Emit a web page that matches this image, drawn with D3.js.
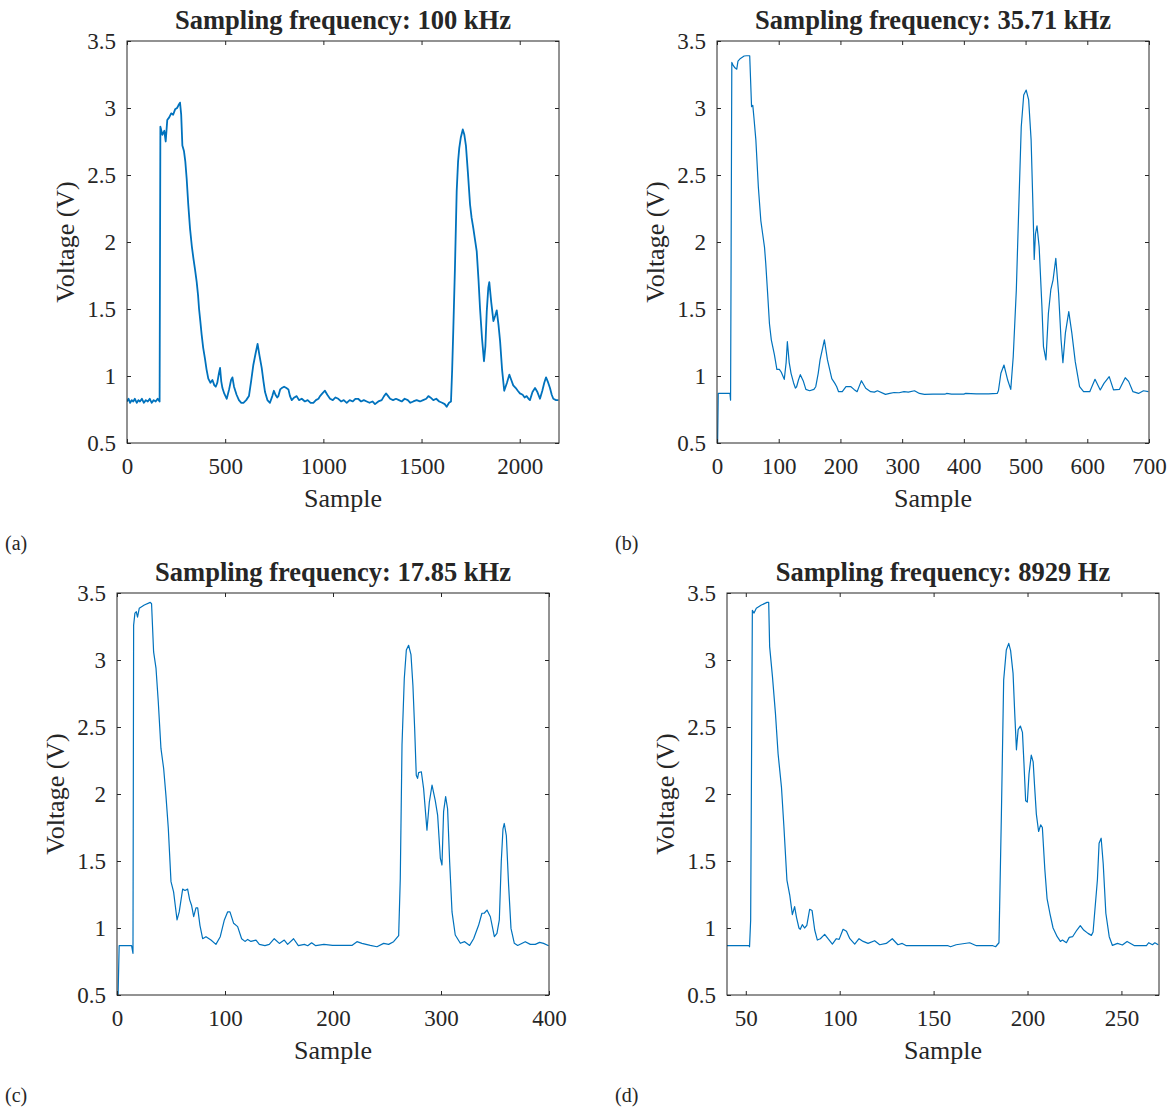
<!DOCTYPE html>
<html>
<head>
<meta charset="utf-8">
<script src="https://cdn.jsdelivr.net/npm/d3@7"></script>
<style>
  body { margin: 0; background: #fff; }
  svg text { font-family: "Liberation Serif", "Times New Roman", serif; fill: #262626; }
</style>
</head>
<body>
<script>
// Voltage traces, one pair of arrays per sampling rate.

const titles = ["Sampling frequency: 100 kHz", "Sampling frequency: 35.71 kHz",
                "Sampling frequency: 17.85 kHz", "Sampling frequency: 8929 Hz"];
const panelTags = ["(a)", "(b)", "(c)", "(d)"];

const yTicks = [0.5, 1, 1.5, 2, 2.5, 3, 3.5];
const xTicksA = [0, 500, 1000, 1500, 2000];
const xTicksB = [0, 100, 200, 300, 400, 500, 600, 700];
const xTicksC = [0, 100, 200, 300, 400];
const xTicksD = [50, 100, 150, 200, 250];

const sampleA = [0, 8, 16, 24, 32, 40, 50, 58, 66, 76, 86, 96, 106, 116, 126, 136, 146, 156, 166,
  170, 180, 190, 197, 205, 215, 225, 235, 245, 255, 262, 270, 276, 282, 290, 297, 304, 312, 321, 330,
  338, 346, 355, 362, 367, 374, 380, 388, 397, 405, 414, 425, 435, 445, 452, 460, 468, 474, 480, 486,
  495, 508, 520, 530, 537, 545, 558, 570, 582, 593, 607, 621, 632, 643, 655, 665, 675, 686, 695, 703,
  715, 728, 740, 748, 756, 765, 771, 780, 788, 800, 812, 822, 830, 839, 852, 864, 876, 890, 906, 920,
  935, 949, 962, 975, 983, 995, 1008, 1020, 1034, 1048, 1062, 1076, 1090, 1104, 1119, 1134, 1150,
  1163, 1177, 1192, 1206, 1221, 1235, 1250, 1263, 1280, 1297, 1309, 1319, 1330, 1340, 1355, 1370,
  1385, 1399, 1414, 1430, 1443, 1458, 1475, 1492, 1508, 1524, 1535, 1545, 1560, 1575, 1590, 1605,
  1618, 1628, 1640, 1650, 1656, 1662, 1670, 1679, 1686, 1692, 1700, 1710, 1718, 1726, 1736, 1747,
  1755, 1764, 1772, 1781, 1790, 1798, 1808, 1818, 1825, 1832, 1840, 1845, 1855, 1866, 1875, 1883,
  1892, 1900, 1910, 1921, 1935, 1947, 1957, 1967, 1980, 1990, 2001, 2015, 2025, 2035, 2045, 2052,
  2065, 2078, 2090, 2103, 2115, 2125, 2134, 2145, 2154, 2163, 2171, 2185, 2197];
const voltA = [0.81, 0.83, 0.80, 0.82, 0.81, 0.83, 0.80, 0.82, 0.81, 0.83, 0.80, 0.82, 0.81, 0.83, 0.80, 0.82, 0.81, 0.83, 0.81,
  2.86, 2.80, 2.83, 2.75, 2.91, 2.93, 2.96, 2.95, 2.99, 3.00, 3.02, 3.04, 2.95, 2.72, 2.68, 2.60, 2.47, 2.28, 2.10, 1.97,
  1.88, 1.80, 1.70, 1.60, 1.50, 1.40, 1.31, 1.21, 1.13, 1.05, 0.98, 0.95, 0.97, 0.93, 0.92, 0.95, 1.02, 1.06, 0.96, 0.91,
  0.87, 0.83, 0.90, 0.97, 0.99, 0.92, 0.86, 0.82, 0.80, 0.80, 0.82, 0.85, 0.96, 1.08, 1.17, 1.24, 1.15, 1.06, 0.96, 0.88,
  0.82, 0.80, 0.85, 0.89, 0.86, 0.84, 0.85, 0.90, 0.91, 0.92, 0.91, 0.90, 0.85, 0.82, 0.84, 0.85, 0.82, 0.83, 0.81, 0.82,
  0.80, 0.80, 0.82, 0.83, 0.85, 0.87, 0.89, 0.86, 0.83, 0.82, 0.84, 0.83, 0.81, 0.82, 0.80, 0.82, 0.81,
  0.83, 0.83, 0.81, 0.82, 0.81, 0.80, 0.81, 0.79, 0.81, 0.82, 0.85, 0.87, 0.85, 0.83, 0.82, 0.83,
  0.82, 0.81, 0.83, 0.82, 0.80, 0.81, 0.82, 0.81, 0.82, 0.83, 0.85, 0.84, 0.82, 0.83, 0.81, 0.80,
  0.79, 0.77, 0.80, 0.81, 1.05, 1.36, 1.80, 2.38, 2.60, 2.70, 2.78, 2.84, 2.80, 2.72, 2.52, 2.28,
  2.18, 2.10, 2.02, 1.93, 1.72, 1.50, 1.28, 1.11, 1.22, 1.48, 1.66, 1.70, 1.55, 1.41, 1.45, 1.49,
  1.38, 1.26, 1.05, 0.89, 0.95, 1.01, 0.97, 0.93, 0.91, 0.89, 0.87, 0.86, 0.84, 0.85, 0.83, 0.82,
  0.88, 0.91, 0.88, 0.83, 0.89, 0.95, 0.99, 0.95, 0.91, 0.86, 0.83, 0.82, 0.82];

const sampleB = [1, 2, 10, 21, 22, 24, 26, 29, 32, 34, 38, 44, 48, 53, 56, 58, 60, 63, 67, 71, 74, 77, 79,
  82, 85, 88, 93, 97, 101, 104, 109, 112, 114, 117, 120, 124, 127, 129, 132, 135, 140, 144, 150, 157,
  160, 164, 167, 174, 179, 186, 191, 194, 197, 203, 209, 217, 222, 227, 231, 234, 241, 249, 255, 260,
  273, 280, 287, 295, 303, 310, 320, 328, 336, 350, 370, 372, 380, 400, 403, 420, 440, 454, 456, 460,
  465, 471, 476, 480, 485, 489, 493, 497, 501, 505, 509, 512, 514, 516, 518.5, 522, 526.5, 529, 533,
  537, 541, 544.5, 549, 553.5, 557.5, 560.5, 564.5, 570, 575, 580.5, 587.5, 594, 604, 612.5, 621, 627,
  635.5, 642.5, 652, 661.5, 667, 674, 683, 691, 699];
const voltB = [0.50, 0.87, 0.87, 0.87, 0.82, 3.34, 3.32, 3.30, 3.29, 3.35, 3.37, 3.388, 3.39, 3.39, 3.01, 3.02, 2.92, 2.76, 2.41, 2.16, 2.06, 1.96, 1.84,
  1.62, 1.39, 1.27, 1.16, 1.05, 1.05, 1.03, 0.975, 1.10, 1.256, 1.10, 1.02, 0.95, 0.91, 0.92, 0.97, 1.01, 0.96, 0.90, 0.89, 0.90,
  0.92, 1.02, 1.12, 1.27, 1.12, 0.98, 0.945, 0.92, 0.883, 0.883, 0.92, 0.92, 0.90, 0.883, 0.93, 0.965, 0.908, 0.883, 0.88, 0.89,
  0.863, 0.87, 0.877, 0.875, 0.883, 0.88, 0.89, 0.87, 0.863, 0.865, 0.865, 0.87, 0.865, 0.865, 0.87, 0.866, 0.867, 0.87, 0.89, 1.02,
  1.082, 0.97, 0.90, 1.144, 1.64, 2.26, 2.86, 3.097, 3.134, 3.06, 2.76, 2.26, 1.87, 2.06, 2.12, 1.965, 1.517, 1.22, 1.12,
  1.468, 1.647, 1.716, 1.878, 1.617, 1.27, 1.10, 1.32, 1.48, 1.32, 1.107, 0.92, 0.883, 0.883, 0.975, 0.896, 0.945,
  0.995, 0.896, 0.90, 0.987, 0.96, 0.883, 0.87, 0.89, 0.883];

const sampleC = [1, 2, 8, 13.5, 14.8, 15.4, 16.6, 17.9, 19, 20.6, 25.3, 30.8, 32, 33.9, 36.1, 38.2, 40.7, 43.2,
  45.3, 47.5, 50, 52.4, 55.6, 57.6, 60.8, 62.9, 65.4, 67.3, 69, 71, 73.1, 74.7, 76.8, 79.3, 82.4, 87,
  91.6, 95.6, 99.4, 102.4, 104.6, 108, 111.7, 115.4, 118.5, 121, 124, 128.7, 131.8, 137, 141, 145.6,
  150.3, 154.9, 158, 163.5, 167.9, 173.5, 176.6, 180.2, 184, 191.6, 199.6, 210, 217.5, 222.2, 226.8,
  234.5, 240.7, 246.9, 251.5, 256.1, 260.8, 262.3, 263.9, 266, 267.9, 270, 272.2, 274, 275.6, 277.1,
  278.3, 279.3, 281.8, 283.9, 287, 289.2, 291.7, 294.7, 296.9, 299.4, 300.9, 302.4, 304.3, 306.1, 308,
  310.2, 313.2, 317.9, 321.9, 326.5, 330.2, 334.8, 337.9, 340, 342.6, 345.7, 349.4, 351.8, 354, 355.8,
  357.4, 358.6, 360.5, 362.6, 364.8, 367.9, 371, 378, 382.7, 387.3, 391.3, 395, 399.6];
const voltC = [0.50, 0.868, 0.868, 0.868, 0.811, 3.26, 3.35, 3.36, 3.32, 3.386, 3.41, 3.43, 3.42, 3.06, 2.94, 2.69, 2.34, 2.19,
  1.99, 1.744, 1.346, 1.27, 1.06, 1.12, 1.29, 1.28, 1.29, 1.21, 1.17, 1.085, 1.15, 1.15, 1.02, 0.92, 0.935, 0.91,
  0.878, 0.935, 1.06, 1.12, 1.12, 1.035, 1.01, 0.92, 0.90, 0.915, 0.90, 0.91, 0.878, 0.868, 0.878, 0.92,
  0.885, 0.91, 0.878, 0.92, 0.868, 0.878, 0.868, 0.89, 0.868, 0.878, 0.87, 0.87, 0.87, 0.898, 0.885,
  0.87, 0.86, 0.885, 0.878, 0.898, 0.943, 1.37, 2.366, 2.86, 3.075, 3.11, 3.04, 2.81, 2.49, 2.14,
  2.117, 2.16, 2.166, 2.04, 1.73, 1.94, 2.067, 1.95, 1.84, 1.52, 1.47, 1.868, 1.98, 1.89, 1.495,
  1.12, 0.948, 0.886, 0.898, 0.87, 0.92, 1.02, 1.11, 1.11, 1.134, 1.084, 0.935, 0.96, 1.06, 1.495,
  1.74, 1.78, 1.69, 1.32, 0.997, 0.886, 0.87, 0.898, 0.878, 0.878, 0.893, 0.885, 0.868];

const sampleD = [40, 51.7, 52, 52.6, 53.5, 54.4, 55.6, 58.3, 61.3, 62.2, 62.7, 64.2, 65.8, 67.2, 69, 70.3,
  71.9, 73.4, 74.8, 76, 77, 78.3, 79, 80.1, 81.3, 82.5, 84, 85.3, 86.7, 88.1, 89.7, 92, 93.8, 96.1,
  98.2, 99.7, 101.8, 103.6, 105.4, 108, 110.3, 112.5, 115.1, 118.6, 121.3, 124.8, 128, 131, 133.3,
  135.5, 157.7, 159, 162, 169.2, 172.8, 181.6, 183, 184.8, 186.1, 187.3, 188.7, 190, 191, 192.3, 193.2,
  194.1, 195, 196.2, 197.3, 198.1, 199, 199.9, 200.8, 202, 203, 203.8, 204.7, 205.9, 207, 207.9, 209.2,
  210.4, 211.9, 213.6, 215.8, 217.5, 218.6, 220.7, 222.2, 224, 226.3, 228.1, 229.9, 232.2, 234, 234.9,
  237.2, 238.1, 239.2, 240.3, 241.7, 243.5, 245.2, 247.9, 250.5, 253, 257, 263.3, 264.5, 266.5, 267.8, 269.6];
const voltD = [0.868, 0.868, 0.86, 1.06, 3.37, 3.35, 3.386, 3.41, 3.43, 3.43, 3.10, 2.876, 2.60, 2.30, 2.05, 1.756,
  1.358, 1.246, 1.10, 1.16, 1.08, 1.00, 0.99, 1.025, 1.00, 1.02, 1.14, 1.13, 0.985, 0.91, 0.92, 0.953, 0.92, 0.88,
  0.92, 0.915, 0.99, 0.975, 0.92, 0.88, 0.92, 0.90, 0.885, 0.905, 0.875, 0.885, 0.92, 0.875, 0.885,
  0.868, 0.868, 0.86, 0.875, 0.89, 0.868, 0.868, 0.86, 0.89, 1.856, 2.85, 3.075, 3.124, 3.07, 2.90, 2.60,
  2.33, 2.48, 2.507, 2.46, 2.23, 1.95, 1.94, 2.15, 2.29, 2.24, 2.05, 1.85, 1.72, 1.77, 1.75, 1.44,
  1.22, 1.11, 1.00, 0.935, 0.90, 0.91, 0.89, 0.93, 0.935, 0.985, 1.017, 0.985, 0.96, 0.945, 0.97,
  1.358, 1.632, 1.67, 1.48, 1.11, 0.935, 0.87, 0.885, 0.873, 0.90, 0.868, 0.868, 0.89, 0.875, 0.89, 0.875];

const W = 1175, H = 1108;
const plotW = 432, plotH = 402;
const ink = "#262626";
const lineColor = "#0072BD";

const panels = [
  {x: 127, y: 41, xDom: [0, 2200], xTicks: xTicksA, s: sampleA, v: voltA, lw: 1.8, tagX: 5, tagY: 550, ylabX: 65},
  {x: 717, y: 41, xDom: [0, 700], xTicks: xTicksB, s: sampleB, v: voltB, lw: 1.2, tagX: 615, tagY: 550, ylabX: 655},
  {x: 117, y: 593, xDom: [0, 400], xTicks: xTicksC, s: sampleC, v: voltC, lw: 1.2, tagX: 5, tagY: 1102, ylabX: 55},
  {x: 727, y: 593, xDom: [40, 270], xTicks: xTicksD, s: sampleD, v: voltD, lw: 1.2, tagX: 615, tagY: 1102, ylabX: 665}
];

const svg = d3.select("body").append("svg")
  .attr("width", W).attr("height", H);

panels.forEach(function(p, i) {
  const x = d3.scaleLinear().domain(p.xDom).range([0, plotW]);
  const y = d3.scaleLinear().domain([0.5, 3.5]).range([plotH, 0]);
  const g = svg.append("g").attr("transform", "translate(" + p.x + "," + p.y + ")");

  const data = p.s.map(function(s, k) { return {s: s, v: p.v[k]}; });

  // clip so the trace never spills over the box
  g.append("clipPath").attr("id", "clip" + i)
    .append("rect").attr("width", plotW).attr("height", plotH);

  g.append("path")
    .datum(data)
    .attr("clip-path", "url(#clip" + i + ")")
    .attr("fill", "none")
    .attr("stroke", lineColor)
    .attr("stroke-width", p.lw)
    .attr("stroke-linejoin", "round")
    .attr("d", d3.line().x(d => x(d.s)).y(d => y(d.v)));

  const fmt = d3.format("~g");

  // bottom + left with labels, top + right ticks only (MATLAB box style)
  const bottom = g.append("g").attr("transform", "translate(0," + plotH + ")")
    .call(d3.axisBottom(x).tickValues(p.xTicks).tickSizeInner(-4).tickSizeOuter(0).tickPadding(15).tickFormat(fmt));
  const top = g.append("g")
    .call(d3.axisTop(x).tickValues(p.xTicks).tickSizeInner(-4).tickSizeOuter(0).tickFormat(""));
  const left = g.append("g")
    .call(d3.axisLeft(y).tickValues(yTicks).tickSizeInner(-4).tickSizeOuter(0).tickPadding(11).tickFormat(fmt));
  const right = g.append("g").attr("transform", "translate(" + plotW + ",0)")
    .call(d3.axisRight(y).tickValues(yTicks).tickSizeInner(-4).tickSizeOuter(0).tickFormat(""));

  [bottom, top, left, right].forEach(function(a) {
    a.select(".domain").remove();
    a.selectAll("line").attr("stroke", ink);
    a.selectAll("text").attr("fill", ink).style("font-size", "23px")
      .style("font-family", "'Liberation Serif', serif");
  });

  g.append("rect")
    .attr("width", plotW).attr("height", plotH)
    .attr("fill", "none").attr("stroke", ink).attr("stroke-width", 1);

  g.append("text")
    .attr("x", plotW / 2).attr("y", -12)
    .attr("text-anchor", "middle")
    .style("font-size", "26.5px").style("font-weight", "bold")
    .attr("fill", "#000")
    .text(titles[i]);

  g.append("text")
    .attr("x", plotW / 2).attr("y", plotH + 64)
    .attr("text-anchor", "middle")
    .style("font-size", "26px")
    .text("Sample");

  g.append("text")
    .attr("transform", "rotate(-90)")
    .attr("x", -plotH / 2).attr("y", p.ylabX - p.x + 9)
    .attr("text-anchor", "middle")
    .style("font-size", "26px")
    .text("Voltage (V)");

  svg.append("text")
    .attr("x", p.tagX).attr("y", p.tagY)
    .style("font-size", "20px")
    .attr("fill", "#000")
    .text(panelTags[i]);
});
</script>
</body>
</html>
